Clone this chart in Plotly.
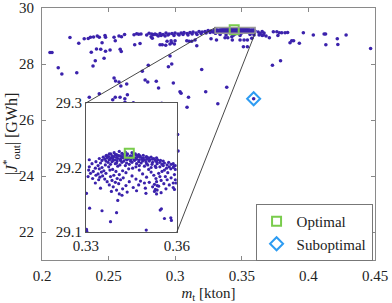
import plotly.graph_objects as go

# ---- data (m_t [kton], |J*_out| [GWh]) ----
outer_points = [
    (0.2060, 28.411), (0.2075, 28.411), (0.2210, 28.946), (0.2276, 28.739), (0.2317, 28.904),
    (0.2347, 28.911), (0.2364, 28.954), (0.2387, 28.964), (0.2415, 29.000), (0.2430, 28.954),
    (0.2451, 28.761), (0.2473, 29.018), (0.2477, 28.954), (0.2541, 28.954), (0.2550, 28.832),
    (0.2578, 29.000), (0.2597, 28.975), (0.2620, 29.054), (0.2691, 29.046), (0.2711, 29.082),
    (0.2726, 29.061), (0.2696, 28.689),
    (0.2370, 28.418), (0.2409, 28.536), (0.2441, 28.525), (0.2477, 28.457), (0.2511, 28.500),
    (0.2587, 28.525), (0.2595, 28.446), (0.2400, 28.118), (0.2466, 28.207), (0.2383, 27.929),
    (0.2122, 27.864), (0.2149, 27.643), (0.2261, 27.689), (0.2541, 27.500), (0.2552, 27.393),
    (0.2578, 27.357), (0.2592, 27.214), (0.2636, 27.286),
    (0.2430, 26.939), (0.2355, 26.811), (0.2531, 26.725), (0.2550, 26.811), (0.2586, 26.811),
    (0.2622, 26.761), (0.2641, 26.904), (0.2686, 26.618), (0.2623, 26.632), (0.2899, 26.596),
    (0.2743, 29.071), (0.2736, 28.732), (0.2786, 29.036), (0.2804, 29.096), (0.2824, 29.071),
    (0.2836, 29.046), (0.2849, 29.071), (0.2861, 29.046), (0.2873, 29.000), (0.2819, 28.975),
    (0.2828, 28.918),
    (0.2886, 29.089), (0.2909, 29.054), (0.2931, 29.107), (0.2954, 29.071), (0.2976, 29.089),
    (0.2999, 29.107), (0.3021, 29.071), (0.3044, 29.107), (0.3066, 29.125), (0.3089, 29.089),
    (0.3111, 29.125), (0.3134, 29.143), (0.3157, 29.107), (0.3179, 29.161), (0.3202, 29.143),
    (0.3224, 29.161), (0.3247, 29.196), (0.3269, 29.179), (0.3292, 29.196),
    (0.2894, 29.018), (0.2924, 29.000), (0.2946, 29.036), (0.2991, 29.018), (0.3029, 29.036),
    (0.3059, 29.054), (0.3096, 29.036), (0.3127, 29.071), (0.3164, 29.054), (0.3194, 29.089),
    (0.3232, 29.107), (0.3262, 29.125), (0.3284, 29.143),
    (0.2886, 28.689), (0.2903, 28.689), (0.2929, 28.668), (0.2961, 28.714), (0.2974, 28.761),
    (0.2994, 28.714), (0.2999, 28.832), (0.2969, 28.832), (0.2939, 28.811), (0.3087, 28.832),
    (0.3104, 28.811), (0.3124, 28.811), (0.3149, 28.857), (0.3162, 28.650), (0.3269, 28.900),
    (0.3310, 28.857), (0.2961, 28.286), (0.2798, 27.954), (0.2949, 27.904), (0.2974, 28.000),
    (0.2753, 27.739), (0.3199, 27.804), (0.2774, 27.429), (0.2794, 27.357), (0.2858, 27.382),
    (0.2875, 27.143), (0.2986, 27.321), (0.3036, 27.011), (0.3044, 26.954), (0.3100, 26.811),
    (0.3229, 27.011), (0.3387, 27.168), (0.3089, 26.454), (0.3320, 26.579), (0.3018, 25.482),
    (0.3021, 24.893),
    (0.3623, 29.143), (0.3638, 29.089), (0.3653, 29.161), (0.3667, 29.107), (0.3630, 29.036),
    (0.3653, 29.018), (0.3662, 29.036), (0.3682, 29.000), (0.3707, 28.939),
    (0.3425, 28.975), (0.3437, 29.025), (0.3487, 28.857), (0.3517, 28.857), (0.3542, 28.857),
    (0.3512, 28.618), (0.3542, 28.618), (0.3575, 28.918), (0.3374, 28.939), (0.3395, 28.939),
    (0.3429, 28.857),
    (0.3337, 29.054), (0.3382, 29.036), (0.3449, 29.071), (0.3487, 29.018), (0.3562, 29.054),
    (0.3592, 29.036),
    (0.3737, 29.154), (0.3763, 29.154), (0.3782, 29.118), (0.3800, 29.118), (0.3825, 29.118),
    (0.3844, 29.125), (0.3771, 29.018), (0.3862, 28.761), (0.3875, 28.832), (0.3889, 28.832),
    (0.3932, 28.743), (0.3962, 29.114), (0.4037, 29.036), (0.4118, 29.071), (0.4129, 29.071),
    (0.4131, 28.686), (0.4217, 28.904), (0.4221, 28.696), (0.4283, 29.036), (0.4467, 28.554),
    (0.3730, 27.957), (0.3791, 28.118),
    (0.3589, 26.760),
]

zoom_points = [
    (0.3410, 29.225),
    (0.3382, 29.221), (0.3393, 29.223), (0.3401, 29.220), (0.3419, 29.222), (0.3430, 29.224),
    (0.3437, 29.221), (0.3452, 29.223), (0.3463, 29.221), (0.3474, 29.220),
    (0.3368, 29.219), (0.3377, 29.221), (0.3386, 29.218), (0.3397, 29.220), (0.3405, 29.219),
    (0.3414, 29.218), (0.3423, 29.220), (0.3434, 29.219), (0.3447, 29.218), (0.3456, 29.220),
    (0.3467, 29.219), (0.3478, 29.218), (0.3489, 29.219), (0.3500, 29.217),
    (0.3357, 29.216), (0.3366, 29.218), (0.3375, 29.217), (0.3384, 29.215), (0.3392, 29.217),
    (0.3401, 29.216), (0.3410, 29.218), (0.3419, 29.216), (0.3427, 29.217), (0.3436, 29.215),
    (0.3445, 29.217), (0.3454, 29.216), (0.3463, 29.215), (0.3471, 29.217), (0.3480, 29.216),
    (0.3489, 29.215), (0.3498, 29.216), (0.3507, 29.215), (0.3515, 29.216), (0.3524, 29.214),
    (0.3533, 29.215),
    (0.3344, 29.214), (0.3362, 29.213), (0.3370, 29.215), (0.3379, 29.213), (0.3388, 29.214),
    (0.3397, 29.212), (0.3405, 29.214), (0.3414, 29.213), (0.3423, 29.215), (0.3432, 29.213),
    (0.3441, 29.214), (0.3449, 29.212), (0.3458, 29.214), (0.3467, 29.213), (0.3476, 29.212),
    (0.3485, 29.213), (0.3493, 29.212), (0.3502, 29.213), (0.3511, 29.212), (0.3520, 29.213),
    (0.3529, 29.211), (0.3537, 29.212), (0.3546, 29.211), (0.3555, 29.210),
    (0.3311, 29.212), (0.3353, 29.211), (0.3366, 29.210), (0.3377, 29.212), (0.3390, 29.211),
    (0.3403, 29.210), (0.3414, 29.211), (0.3425, 29.210), (0.3436, 29.212), (0.3447, 29.210),
    (0.3460, 29.211), (0.3474, 29.209), (0.3487, 29.210), (0.3498, 29.209), (0.3509, 29.210),
    (0.3520, 29.208), (0.3533, 29.209), (0.3544, 29.208), (0.3559, 29.207), (0.3573, 29.208),
    (0.3588, 29.206),
    (0.3333, 29.209), (0.3373, 29.208), (0.3386, 29.209), (0.3401, 29.207), (0.3419, 29.208),
    (0.3434, 29.207), (0.3452, 29.208), (0.3467, 29.206), (0.3482, 29.207), (0.3500, 29.206),
    (0.3518, 29.205), (0.3535, 29.206), (0.3551, 29.205), (0.3568, 29.204), (0.3581, 29.205),
    (0.3595, 29.203),
    (0.3320, 29.206), (0.3348, 29.207), (0.3381, 29.205), (0.3397, 29.206), (0.3412, 29.204),
    (0.3443, 29.205), (0.3476, 29.203), (0.3504, 29.204), (0.3529, 29.202), (0.3555, 29.203),
    (0.3575, 29.201), (0.3590, 29.202),
    (0.3340, 29.203), (0.3364, 29.204), (0.3405, 29.202), (0.3430, 29.203), (0.3465, 29.201),
    (0.3493, 29.202), (0.3515, 29.200), (0.3544, 29.201), (0.3566, 29.199), (0.3588, 29.200),
    (0.3311, 29.201), (0.3353, 29.200), (0.3375, 29.201), (0.3454, 29.199), (0.3531, 29.200),
    (0.3580, 29.198),
    (0.3331, 29.199), (0.3344, 29.198), (0.3388, 29.197), (0.3441, 29.198), (0.3507, 29.197),
    (0.3559, 29.196), (0.3595, 29.197),
    (0.3309, 29.196), (0.3359, 29.195), (0.3379, 29.196), (0.3421, 29.195), (0.3476, 29.196),
    (0.3551, 29.194),
    (0.3324, 29.194), (0.3351, 29.193), (0.3399, 29.194), (0.3432, 29.192), (0.3515, 29.193),
    (0.3570, 29.192),
    (0.3315, 29.191), (0.3340, 29.190), (0.3366, 29.191), (0.3410, 29.189), (0.3487, 29.190),
    (0.3540, 29.191), (0.3592, 29.189),
    (0.3333, 29.188), (0.3355, 29.187), (0.3392, 29.188), (0.3452, 29.187), (0.3524, 29.188),
    (0.3562, 29.186),
    (0.3307, 29.186), (0.3346, 29.185), (0.3381, 29.186), (0.3423, 29.184), (0.3500, 29.185),
    (0.3544, 29.186), (0.3581, 29.184),
    (0.3322, 29.183), (0.3362, 29.182), (0.3403, 29.183), (0.3465, 29.182), (0.3531, 29.183),
    (0.3595, 29.181),
    (0.3342, 29.181), (0.3386, 29.180), (0.3414, 29.181), (0.3480, 29.179), (0.3548, 29.180),
    (0.3568, 29.181),
    (0.3370, 29.178), (0.3397, 29.177), (0.3443, 29.178), (0.3509, 29.177), (0.3533, 29.178),
    (0.3588, 29.176),
    (0.3331, 29.176), (0.3408, 29.175), (0.3493, 29.176), (0.3526, 29.174), (0.3557, 29.175),
    (0.3597, 29.176),
    (0.3377, 29.173), (0.3432, 29.172), (0.3474, 29.173), (0.3535, 29.172), (0.3575, 29.173),
    (0.3390, 29.170), (0.3456, 29.169), (0.3520, 29.170), (0.3540, 29.171), (0.3588, 29.169),
    (0.3348, 29.168), (0.3421, 29.167), (0.3496, 29.168), (0.3529, 29.166), (0.3564, 29.167),
    (0.3401, 29.165), (0.3467, 29.164), (0.3535, 29.165), (0.3592, 29.166),
    (0.3384, 29.163), (0.3436, 29.162), (0.3526, 29.163), (0.3548, 29.161),
    (0.3302, 29.160), (0.3410, 29.159), (0.3498, 29.160), (0.3533, 29.159),
    (0.3312, 29.137), (0.3302, 29.104), (0.3303, 29.101), (0.3353, 29.133), (0.3381, 29.116),
    (0.3401, 29.130), (0.3499, 29.103), (0.3405, 29.149), (0.3419, 29.157), (0.3545, 29.134),
    (0.3549, 29.136), (0.3559, 29.121), (0.3580, 29.122), (0.3582, 29.118),
]

optimal_mt, optimal_J = [0.3443], [29.222]
subopt_mt, subopt_J = [0.3589], [26.760]

x_ticks = [0.2, 0.25, 0.3, 0.35, 0.4, 0.45]
x_ticklabels = ["0.2", "0.25", "0.3", "0.35", "0.4", "0.45"]
y_ticks = [22, 24, 26, 28, 30]
inset_x_ticks = [0.33, 0.36]
inset_y_ticks = [29.1, 29.2, 29.3]

x_range = [0.2, 0.45]
y_range = [21, 30]
zoom_x = [0.33, 0.36]
zoom_y = [29.1, 29.3]

# ---- derived ----
design_mt = [p[0] for p in outer_points] + [p[0] for p in zoom_points]
design_J = [p[1] for p in outer_points] + [p[1] for p in zoom_points]

DOT = "#3b22ac"
GREEN = "#79cc4c"
BLUE = "#2e9cf2"
FONT = "Liberation Serif"

inset_dom_x = [0.132, 0.405]
inset_dom_y = [0.111, 0.623]

fig = go.Figure()
for xa, ya, sz in (("x", "y", 3.6), ("x2", "y2", 3.2)):
    fig.add_trace(go.Scatter(x=design_mt, y=design_J, mode="markers", xaxis=xa, yaxis=ya,
                             marker=dict(size=sz, color=DOT), showlegend=False, hoverinfo="skip"))
    fig.add_trace(go.Scatter(x=optimal_mt, y=optimal_J, mode="markers", xaxis=xa, yaxis=ya,
                             name="Optimal", showlegend=(xa == "x"),
                             marker=dict(symbol="square-open", size=9, color=GREEN,
                                         line=dict(width=2, color=GREEN))))
fig.add_trace(go.Scatter(x=subopt_mt, y=subopt_J, mode="markers", name="Suboptimal",
                         marker=dict(symbol="diamond-open", size=10, color=BLUE,
                                     line=dict(width=2, color=BLUE))))


def to_paper(xv, yv):
    return ((xv - x_range[0]) / (x_range[1] - x_range[0]),
            (yv - y_range[0]) / (y_range[1] - y_range[0]))


# zoom rectangle and connectors
fig.add_shape(type="rect", xref="x", yref="y", x0=zoom_x[0], x1=zoom_x[1], y0=zoom_y[0], y1=zoom_y[1],
              line=dict(color="#9a9a9a", width=1.5), fillcolor="rgba(0,0,0,0)")
p1 = to_paper(zoom_x[0], zoom_y[1])
p2 = to_paper(zoom_x[1], zoom_y[0])
fig.add_shape(type="line", xref="paper", yref="paper", x0=inset_dom_x[0], y0=inset_dom_y[1],
              x1=p1[0], y1=p1[1], line=dict(color="#333333", width=0.9))
fig.add_shape(type="line", xref="paper", yref="paper", x0=inset_dom_x[1], y0=inset_dom_y[0],
              x1=p2[0], y1=p2[1], line=dict(color="#333333", width=0.9))

axis_common = dict(showgrid=False, zeroline=False, showline=True, automargin=False,
                   tickfont=dict(family=FONT, size=15, color="#222"))

fig.update_layout(
    width=392, height=303,
    margin=dict(l=42, r=17, t=8, b=43),
    paper_bgcolor="white", plot_bgcolor="white",
    font=dict(family=FONT, size=15, color="#222"),
    xaxis=dict(domain=[0, 1], range=x_range, tickvals=x_ticks, ticktext=x_ticklabels,
               ticks="inside", ticklen=4, tickcolor="#888", mirror="ticks", linecolor="#8a8a8a",
               ticklabelstandoff=2,
               title=dict(text="<i>m</i><sub>t</sub> [kton]", font=dict(family=FONT, size=15), standoff=4),
               **axis_common),
    yaxis=dict(domain=[0, 1], range=y_range, tickvals=y_ticks,
               ticks="inside", ticklen=4, tickcolor="#888", mirror="ticks", linecolor="#8a8a8a",
               ticklabelstandoff=4,
               title=dict(text="|<i>J</i><sup>*</sup><sub>out</sub>| [GWh]",
                          font=dict(family=FONT, size=16), standoff=2),
               **axis_common),
    xaxis2=dict(domain=inset_dom_x, anchor="y2", range=zoom_x, tickvals=inset_x_ticks,
                ticktext=["0.33", "0.36"], ticks="", mirror=True, linecolor="#555", **axis_common),
    yaxis2=dict(domain=inset_dom_y, anchor="x2", range=zoom_y, tickvals=inset_y_ticks,
                ticktext=["29.1", "29.2", "29.3"], ticks="", mirror=True, linecolor="#555", **axis_common),
    legend=dict(x=0.817, xanchor="center", y=0.109, yanchor="middle", bgcolor="white",
                bordercolor="#777", borderwidth=1, font=dict(family=FONT, size=15),
                tracegroupgap=0, itemwidth=30),
)

fig.write_html("out.html", post_script="document.body.style.margin='0px';",
               config={"displayModeBar": False})
